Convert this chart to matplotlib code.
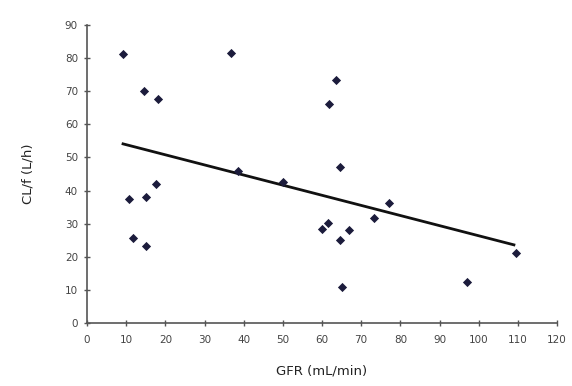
import numpy as np
import matplotlib
matplotlib.use("Agg")
import matplotlib.pyplot as plt

gfr = [9.2, 14.6, 18.2, 36.8, 63.7, 61.9, 64.7, 38.6, 50.1, 17.6, 10.7, 15.1,
       11.8, 15.1, 77.2, 73.2, 61.6, 60.1, 67.0, 64.5, 65.0, 96.9, 109.5]
clf = [81.3, 70.1, 67.7, 81.6, 73.4, 66.2, 47.1, 45.9, 42.6, 42.0, 37.5, 38.1,
       25.7, 23.3, 36.3, 31.7, 30.2, 28.4, 28.1, 25.1, 10.9, 12.4, 21.1]
trend_x = [9.2, 109.0]
trend_y = [54.1, 23.6]
xticks = list(range(0, 121, 10))
yticks = list(range(0, 91, 10))

fig = plt.figure(figsize=(5.72, 3.86), dpi=100)
ax = fig.add_axes([87/572, 63/386, 470/572, 298/386])
ax.scatter(gfr, clf, marker='D', s=22, color='#1c1c3c', zorder=3, linewidths=0)
ax.plot(trend_x, trend_y, color='#111111', lw=2, zorder=2)
ax.set_xlim(0, 120)
ax.set_ylim(0, 90)
ax.set_xticks(xticks)
ax.set_yticks(yticks)
for s in ['top', 'right']:
    ax.spines[s].set_visible(False)
for s in ['left', 'bottom']:
    ax.spines[s].set_color('#555555')
    ax.spines[s].set_linewidth(1.2)
ax.tick_params(axis='both', direction='inout', length=5, width=1, color='#555555',
               labelsize=7.5, labelcolor='#444444')
ax.tick_params(axis='x', pad=6)
ax.tick_params(axis='y', pad=4)
ax.set_xlabel('GFR (mL/min)', fontsize=9.5, color='#222222', labelpad=14)
ax.set_ylabel('CL/f (L/h)', fontsize=9.5, color='#222222', labelpad=22)
fig.savefig('out.png', dpi=100)
